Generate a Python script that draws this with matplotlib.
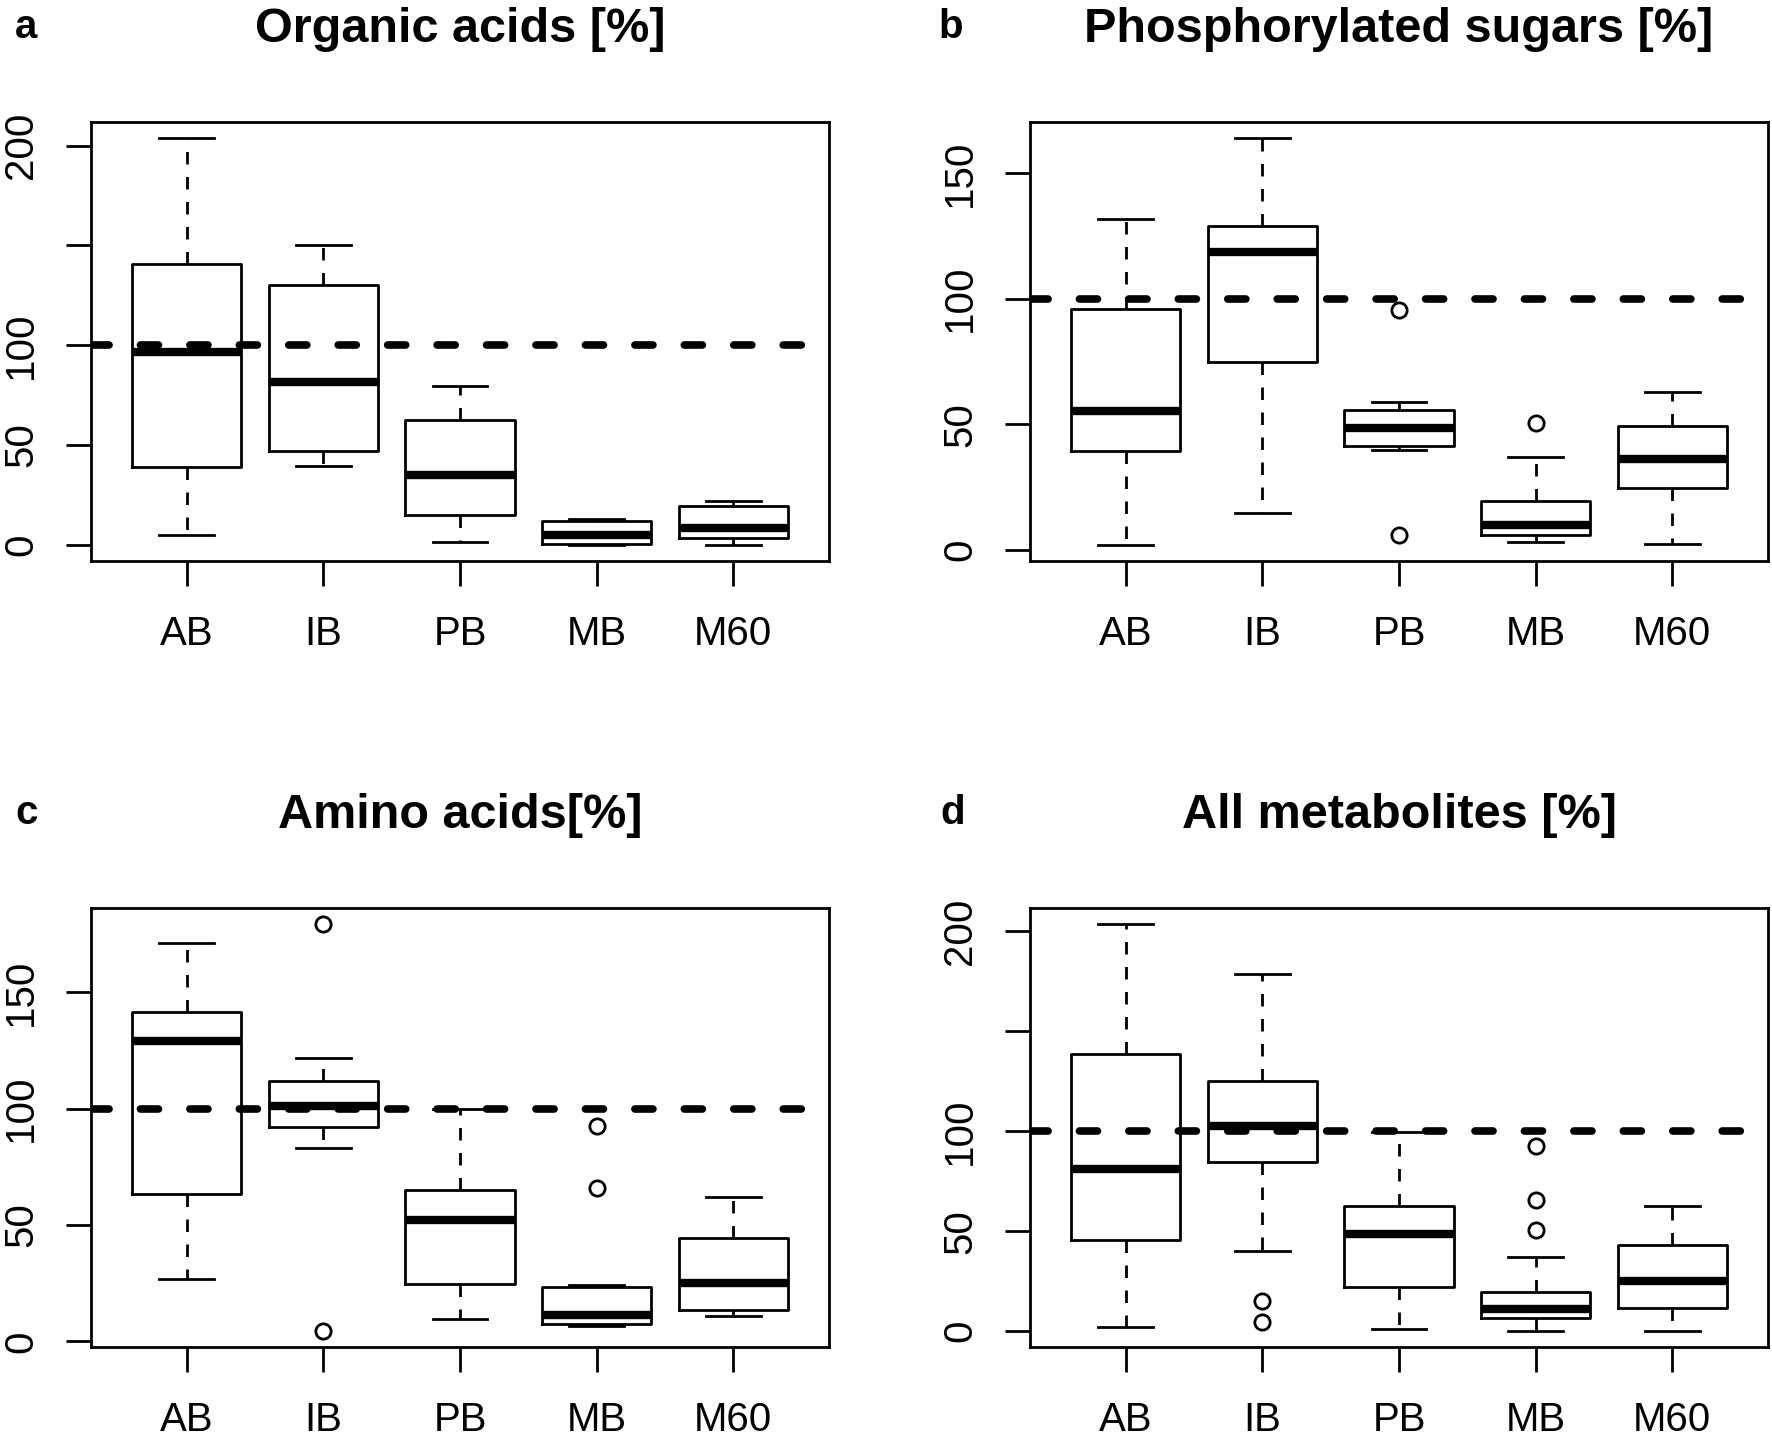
import matplotlib
matplotlib.use("Agg")
import matplotlib.pyplot as plt

plt.rcParams['font.family'] = ['Liberation Sans', 'DejaVu Sans']
plt.rcParams['lines.scale_dashes'] = False

categories = ["AB", "IB", "PB", "MB", "M60"]

titles = ["Organic acids [%]", "Phosphorylated sugars [%]",
          "Amino acids[%]", "All metabolites [%]"]
letters = ["a", "b", "c", "d"]

# Panel a: Organic acids
a_whislo = [5.0, 39.7, 1.3, 0.0, 0.0]
a_q1 = [38.9, 47.1, 14.7, 0.5, 3.3]
a_med = [96.8, 81.8, 35.1, 4.8, 8.2]
a_q3 = [140.7, 130.2, 62.6, 11.7, 19.4]
a_whishi = [203.7, 150.2, 79.8, 12.9, 22.0]
a_fliers = [[], [], [], [], []]

# Panel b: Phosphorylated sugars
b_whislo = [2.0, 14.6, 39.7, 2.9, 2.3]
b_q1 = [39.4, 74.6, 41.2, 6.0, 24.6]
b_med = [55.2, 118.4, 48.3, 9.7, 36.2]
b_q3 = [95.8, 129.0, 55.6, 19.6, 49.4]
b_whishi = [131.7, 163.9, 58.7, 36.8, 62.7]
b_fliers = [[], [], [95.6, 6.0], [50.4], []]

# Panel c: Amino acids
c_whislo = [27.0, 83.0, 9.6, 6.7, 11.0]
c_q1 = [63.4, 92.1, 24.6, 7.4, 13.4]
c_med = [128.8, 100.9, 52.1, 11.3, 25.3]
c_q3 = [141.6, 111.9, 65.0, 23.3, 44.2]
c_whishi = [171.2, 121.9, 99.7, 24.2, 61.8]
c_fliers = [[], [179.1, 4.6], [], [92.5, 65.8], []]

# Panel d: All metabolites
d_whislo = [2.2, 40.2, 1.3, 0.2, 0.2]
d_q1 = [45.5, 84.5, 22.2, 6.7, 11.8]
d_med = [81.3, 102.7, 48.8, 11.0, 25.2]
d_q3 = [138.5, 125.0, 62.7, 19.7, 43.0]
d_whishi = [203.5, 178.5, 99.7, 37.2, 62.7]
d_fliers = [[], [15.2, 4.7], [], [92.7, 65.8, 50.8], []]

yticks_a = [0, 50, 100, 150, 200]
yticklabels_a = ["0", "50", "100", "", "200"]
yticks_b = [0, 50, 100, 150]
yticklabels_b = ["0", "50", "100", "150"]
yticks_c = [0, 50, 100, 150]
yticklabels_c = ["0", "50", "100", "150"]
yticks_d = [0, 50, 100, 150, 200]
yticklabels_d = ["0", "50", "100", "", "200"]

reference_line = 100

panels = [
    (a_whislo, a_q1, a_med, a_q3, a_whishi, a_fliers, yticks_a, yticklabels_a),
    (b_whislo, b_q1, b_med, b_q3, b_whishi, b_fliers, yticks_b, yticklabels_b),
    (c_whislo, c_q1, c_med, c_q3, c_whishi, c_fliers, yticks_c, yticklabels_c),
    (d_whislo, d_q1, d_med, d_q3, d_whishi, d_fliers, yticks_d, yticklabels_d),
]

W, H = 1772, 1440
fig = plt.figure(figsize=(W / 100, H / 100), dpi=100)

# axes boxes in pixels: (left, top, right, bottom)
boxes = [(91, 122, 829, 561), (1030, 122, 1768, 561),
         (91, 908, 829, 1347), (1030, 908, 1768, 1347)]
letter_pos = [(15, 38), (938, 38), (15, 824), (940, 824)]

for i, (wl, q1, md, q3, wh, fl, yt, ytl) in enumerate(panels):
    l, t, r, b = boxes[i]
    ax = fig.add_axes([l / W, 1 - b / H, (r - l) / W, (b - t) / H])
    stats = []
    for k in range(len(categories)):
        stats.append(dict(whislo=wl[k], q1=q1[k], med=md[k], q3=q3[k],
                          whishi=wh[k], fliers=fl[k], label=categories[k]))
    ax.bxp(stats, positions=range(1, len(categories) + 1), widths=0.8,
           capwidths=0.4, showfliers=True,
           boxprops=dict(lw=2, color='k'),
           medianprops=dict(lw=6, color='k', solid_capstyle='butt'),
           whiskerprops=dict(lw=2, color='k', linestyle=(0, (9, 9))),
           capprops=dict(lw=2, color='k'),
           flierprops=dict(marker='o', markerfacecolor='none',
                           markeredgecolor='k', markersize=11,
                           markeredgewidth=2, linestyle='none'))
    ax.axhline(reference_line, color='k', lw=5.5, linestyle=(0, (13, 22.6)),
               dash_capstyle='round', zorder=5)

    allv = wl + wh + [v for f in fl for v in f]
    lo, hi = min(allv), max(allv)
    rng = hi - lo
    ax.set_ylim(lo - 0.04 * rng, hi + 0.04 * rng)
    ax.set_xlim(0.3, len(categories) + 0.7)

    ax.set_xticks(range(1, len(categories) + 1), categories)
    ax.set_yticks(yt, ytl, rotation=90, va='center')
    ax.tick_params(axis='both', length=18, width=2, labelsize=29,
                   direction='out')
    ax.tick_params(axis='x', pad=21)
    ax.tick_params(axis='y', pad=18.5)
    for sp in ax.spines.values():
        sp.set_linewidth(2)
    ax.set_title(titles[i], fontsize=35, fontweight='bold', pad=57.5)

    lx, ly = letter_pos[i]
    fig.text(lx / W, 1 - ly / H, letters[i], fontsize=29, fontweight='bold',
             ha='left', va='baseline')

fig.savefig("out.png", dpi=100, facecolor='white')
